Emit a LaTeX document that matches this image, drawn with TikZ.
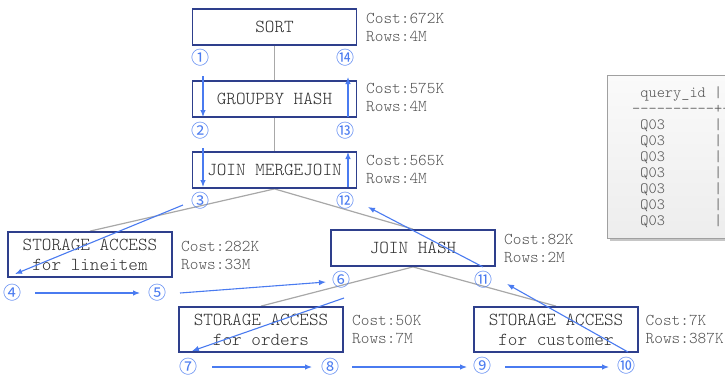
\documentclass[tikz,border=0pt]{standalone}
\usepackage{fontspec}
\newfontfamily\lightmono{Latin Modern Mono Light}
\newfontfamily\circfont{Noto Sans CJK JP}
\usetikzlibrary{arrows.meta,shadows}

\definecolor{boxedge}{HTML}{2E3F8C}
\definecolor{flow}{HTML}{4A7BF0}
\definecolor{treeline}{HTML}{A8A8A8}
\definecolor{optext}{HTML}{303030}
\definecolor{stattext}{HTML}{505050}
\definecolor{panelline}{HTML}{A0A0A0}

\begin{document}
\begin{tikzpicture}[x=1pt,y=-1pt,
  op/.style={draw=boxedge, line width=1.8pt, fill=white, minimum width=164pt,
    minimum height=36pt, inner sep=0pt, text=optext, align=center,
    font=\lightmono\fontsize{18.3}{20}\selectfont},
  optall/.style={op, minimum height=45pt},
  stat/.style={anchor=west, align=left, inner sep=0pt, text=stattext,
    font=\lightmono\fontsize{16.5}{18}\selectfont},
  num/.style={inner sep=0pt, text=flow, font=\circfont\fontsize{18}{18}\selectfont},
  tree/.style={draw=treeline, line width=1.2pt},
  flowarrow/.style={draw=flow, line width=1.1pt, -{Latex[length=7pt,width=5.5pt]}},
  tabtext/.style={anchor=west, inner sep=0pt, text=stattext,
    font=\lightmono\fontsize{15.6}{16}\selectfont}
]
\useasboundingbox (0,0) rectangle (725,376);
\clip (0,0) rectangle (725,376);

% plan operators (placed first so the edges can refer to them)
\node[op]     (sort)     at (274.5,27)  {SORT};
\node[op]     (groupby)  at (274.5,99)  {GROUPBY HASH};
\node[op]     (merge)    at (274.5,170) {JOIN MERGEJOIN};
\node[optall] (lineitem) at (90,254.5)  {STORAGE ACCESS\\for lineitem};
\node[op]     (hashjoin) at (413,248)   {JOIN HASH};
\node[optall] (orders)   at (261,329.5) {STORAGE ACCESS\\for orders};
\node[optall] (customer) at (556,329.5) {STORAGE ACCESS\\for customer};

% tree edges
\draw[tree] (sort.south) -- (groupby.north);
\draw[tree] (groupby.south) -- (merge.north);
\draw[tree] (merge.south) -- (lineitem.north);
\draw[tree] (merge.south) -- (hashjoin.north);
\draw[tree] (hashjoin.south) -- (orders.north);
\draw[tree] (hashjoin.south) -- (customer.north);

% boxes again, on top of the edges
\node[op]     at (sort)     {SORT};
\node[op]     at (groupby)  {GROUPBY HASH};
\node[op]     at (merge)    {JOIN MERGEJOIN};
\node[optall] at (lineitem) {STORAGE ACCESS\\for lineitem};
\node[op]     at (hashjoin) {JOIN HASH};
\node[optall] at (orders)   {STORAGE ACCESS\\for orders};
\node[optall] at (customer) {STORAGE ACCESS\\for customer};

% cost / rows estimates
\node[stat] (s1) at (366,27)    {Cost:672K\\Rows:4M};
\node[stat] (s2) at (366,97)    {Cost:575K\\Rows:4M};
\node[stat] (s3) at (366,169)   {Cost:565K\\Rows:4M};
\node[stat] (s4) at (181,255)   {Cost:282K\\Rows:33M};
\node[stat] (s5) at (504,248)   {Cost:82K\\Rows:2M};
\node[stat] (s6) at (352,329)   {Cost:50K\\Rows:7M};
\node[stat] (s7) at (645.5,329) {Cost:7K\\Rows:387K};

% execution order markers
\node[num] (n1)  at (200,58)  {①};
\node[num] (n14) at (345,58)  {⑭};
\node[num] (n2)  at (200,131) {②};
\node[num] (n13) at (345,131) {⑬};
\node[num] (n3)  at (200,201) {③};
\node[num] (n12) at (345,201) {⑫};
\node[num] (n4)  at (12,293)  {④};
\node[num] (n5)  at (157,293) {⑤};
\node[num] (n6)  at (341,280) {⑥};
\node[num] (n11) at (483,280) {⑪};
\node[num] (n7)  at (188,367) {⑦};
\node[num] (n8)  at (330,367) {⑧};
\node[num] (n9)  at (482,366) {⑨};
\node[num] (n10) at (626,366) {⑩};

% execution flow
\coordinate (a1s) at (203,76);   \coordinate (a1e) at (203,117);
\coordinate (a2s) at (203,148);  \coordinate (a2e) at (203,187);
\coordinate (a3s) at (183,205);  \coordinate (a3e) at (15,274);
\coordinate (a4s) at (35,293);   \coordinate (a4e) at (140,293);
\coordinate (a5s) at (180,293);  \coordinate (a5e) at (326,282);
\coordinate (a6s) at (344,298);  \coordinate (a6e) at (192,351);
\coordinate (a7s) at (212,367);  \coordinate (a7e) at (312,367);
\coordinate (a8s) at (352,367);  \coordinate (a8e) at (467,367);
\coordinate (a9s) at (505,367);  \coordinate (a9e) at (609,367);
\coordinate (a10s) at (628,352); \coordinate (a10e) at (507,284);
\coordinate (a11s) at (483,267); \coordinate (a11e) at (368,207);
\coordinate (a12s) at (348,187); \coordinate (a12e) at (348,152);
\coordinate (a13s) at (348,117); \coordinate (a13e) at (348,77);
\foreach \k in {1,...,13} {\draw[flowarrow] (a\k s) -- (a\k e);}

% query result panel, running past the right edge
\path[draw=panelline, line width=0.8pt, top color=gray!4, bottom color=gray!14,
  drop shadow={shadow xshift=2.5pt, shadow yshift=-2.5pt, opacity=0.45}]
  (607,75) rectangle (740,238);
\node[tabtext] (h1) at (632,94)  {~query\_id~|};
\node[tabtext] (h2) at (632,109) {----------+-};
\foreach \r/\yy in {1/125,2/141,3/157,4/173,5/189,6/205,7/221}
  \node[tabtext] (q\r) at (632,\yy) {~Q03~~~~~~|};
\end{tikzpicture}
\end{document}
